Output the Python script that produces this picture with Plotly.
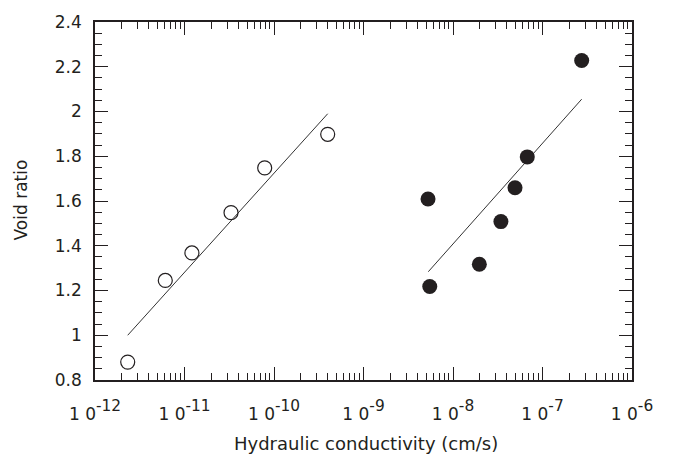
import plotly.graph_objects as go

# Open circles (data set 1)
k_open = [2.32e-12, 6.1e-12, 1.21e-11, 3.31e-11, 7.87e-11, 3.98e-10]
e_open = [0.88, 1.245, 1.368, 1.548, 1.748, 1.898]
# Fit line for open circles
k_open_fit = [2.32e-12, 3.98e-10]
e_open_fit = [1.0, 1.99]

# Filled circles (data set 2)
k_fill = [5.26e-9, 5.5e-9, 1.97e-8, 3.43e-8, 4.93e-8, 6.76e-8, 2.74e-7]
e_fill = [1.609, 1.218, 1.317, 1.508, 1.659, 1.797, 2.228]
# Fit line for filled circles
k_fill_fit = [5.3e-9, 2.74e-7]
e_fill_fit = [1.284, 2.055]

x_exps = [-12, -11, -10, -9, -8, -7, -6]
y_ticks = [0.8, 1.0, 1.2, 1.4, 1.6, 1.8, 2.0, 2.2, 2.4]
y_ticktext = ["0.8", "1", "1.2", "1.4", "1.6", "1.8", "2", "2.2", "2.4"]

FONT = "DejaVu Sans"
INK = "#231f20"

fig = go.Figure()
fig.add_trace(go.Scatter(x=k_open_fit, y=e_open_fit, mode="lines",
                         line=dict(color="#333333", width=1), showlegend=False))
fig.add_trace(go.Scatter(x=k_fill_fit, y=e_fill_fit, mode="lines",
                         line=dict(color="#333333", width=1), showlegend=False))
fig.add_trace(go.Scatter(x=k_open, y=e_open, mode="markers",
                         marker=dict(symbol="circle-open", size=14, color=INK,
                                     line=dict(width=1.2, color=INK)),
                         showlegend=False))
fig.add_trace(go.Scatter(x=k_fill, y=e_fill, mode="markers",
                         marker=dict(symbol="circle", size=15, color=INK,
                                     line=dict(width=0, color=INK)),
                         showlegend=False))

x_tickvals = [10.0 ** e for e in x_exps]
x_ticktext = ['<span style="font-size:17px">1 0</span><sup>%d</sup>' % e for e in x_exps]
minor_x = [m * 10.0 ** e for e in x_exps[:-1] for m in range(2, 10)]

fig.update_layout(
    width=673, height=461,
    margin=dict(l=95, r=41, t=20, b=81),
    paper_bgcolor="white", plot_bgcolor="white",
    font=dict(family=FONT, size=17, color="#231f20"),
    xaxis=dict(type="log", range=[-12, -6], tickmode="array",
               tickvals=x_tickvals, ticktext=x_ticktext,
               ticks="inside", ticklen=13, tickwidth=1.2, tickcolor="#231f20",
               showline=True, linecolor="#231f20", linewidth=1.5, mirror="ticks",
               showgrid=False, zeroline=False, ticklabelstandoff=12,
               tickfont=dict(family=FONT, size=22),
               minor=dict(tickmode="array", tickvals=minor_x, ticks="inside",
                          ticklen=7, tickwidth=1.2, tickcolor="#231f20", showgrid=False)),
    yaxis=dict(range=[0.8, 2.4], tickmode="array", tickvals=y_ticks, ticktext=y_ticktext,
               ticks="inside", ticklen=13, tickwidth=1.2, tickcolor="#231f20",
               showline=True, linecolor="#231f20", linewidth=1.5, mirror="ticks",
               showgrid=False, zeroline=False, ticklabelstandoff=8,
               tickfont=dict(family=FONT, size=17),
               minor=dict(dtick=0.05, tick0=0.8, ticks="inside",
                          ticklen=7, tickwidth=1.2, tickcolor="#231f20", showgrid=False)),
    annotations=[
        dict(text="Hydraulic conductivity (cm/s)", xref="paper", yref="paper",
             x=0.505, y=-0.178, xanchor="center", yanchor="middle", showarrow=False,
             font=dict(family=FONT, size=18, color="#231f20")),
        dict(text="Void ratio", xref="paper", yref="paper", textangle=-90,
             x=-0.138, y=0.504, xanchor="center", yanchor="middle", showarrow=False,
             font=dict(family=FONT, size=17, color="#231f20")),
    ],
)

fig.write_html("out.html")
